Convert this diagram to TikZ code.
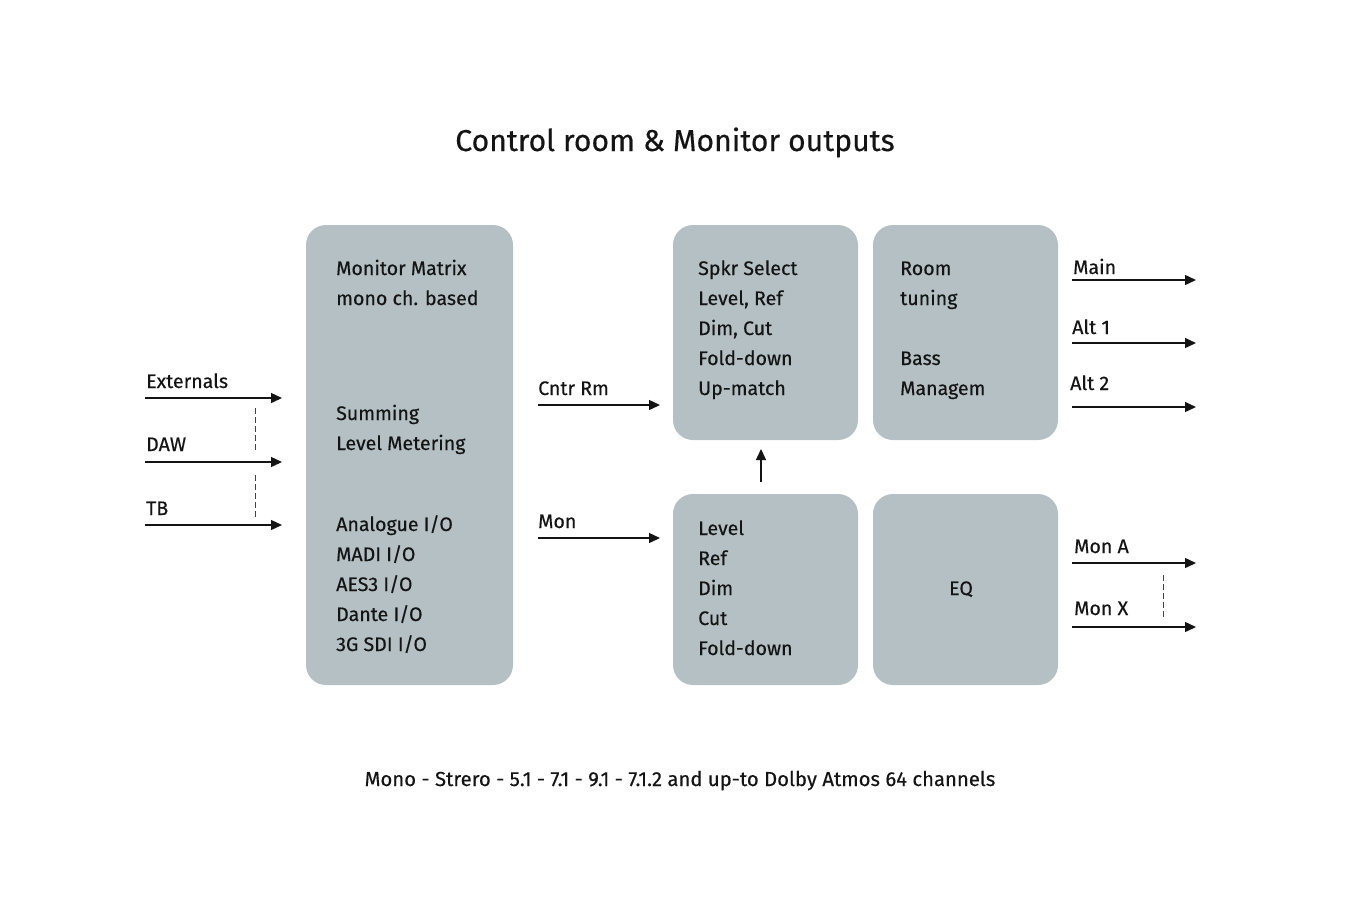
\documentclass[tikz,border=0pt]{standalone}
\usepackage{fontspec}
\setmainfont{Fira Sans}[FakeBold=0.35]
\usetikzlibrary{arrows.meta}

\definecolor{boxgrey}{HTML}{B4C0C4}
\definecolor{ink}{HTML}{141414}

\tikzset{
  block/.style={fill=boxgrey, rounded corners=20pt, inner sep=0pt},
  txt/.style={anchor=base west, inner sep=0pt, text=ink, font=\fontsize{19.6}{30}\selectfont},
  sig/.style={-{Triangle[length=11pt,width=10pt]}, line width=1.4pt, draw=ink},
  link/.style={line width=1pt, draw=ink!80, dash pattern=on 6pt off 3pt},
}

\begin{document}
\begin{tikzpicture}[x=1pt,y=-1pt]
    \useasboundingbox (0,0) rectangle (1350,914);

    \node[anchor=base, inner sep=0pt, text=ink, font=\fontsize{30.2}{36}\selectfont] (title) at (675,151) {Control room \& Monitor outputs};

    % blocks
    \node[block, minimum width=207pt, minimum height=460pt] (matrix) at (409.5,455) {};
    \node[block, minimum width=185pt, minimum height=215pt] (spkr) at (765.5,332.5) {};
    \node[block, minimum width=185pt, minimum height=215pt] (room) at (965.5,332.5) {};
    \node[block, minimum width=185pt, minimum height=191pt] (level) at (765.5,589.5) {};
    \node[block, minimum width=185pt, minimum height=191pt] (eq) at (965.5,589.5) {};

    % texts in the blocks
    \foreach \t [count=\i from 0] in {Monitor Matrix, mono ch. based}
      \node[txt] (mm\i) at (336,275+30*\i) {\t};
    \foreach \t [count=\i from 0] in {Summing, Level Metering}
      \node[txt] (sum\i) at (336,420+30*\i) {\t};
    \foreach \t [count=\i from 0] in {Analogue I/O, MADI I/O, AES3 I/O, Dante I/O, 3G SDI I/O}
      \node[txt] (io\i) at (336,531+30*\i) {\t};
    \foreach \t [count=\i from 0] in {Spkr Select, {Level, Ref}, {Dim, Cut}, Fold-down, Up-match}
      \node[txt] (sp\i) at (698,275+30*\i) {\t};
    \foreach \t [count=\i from 0] in {Room, tuning}
      \node[txt] (rt\i) at (900,275+30*\i) {\t};
    \foreach \t [count=\i from 0] in {Bass, Managem}
      \node[txt] (bm\i) at (900,365+30*\i) {\t};
    \foreach \t [count=\i from 0] in {Level, Ref, Dim, Cut, Fold-down}
      \node[txt] (lv\i) at (698,535+30*\i) {\t};
    \node[txt, anchor=base] (eqt) at (961,595) {EQ};

    % inputs
    \node[txt] (ext) at (146,388) {Externals};
    \node[txt] (daw) at (146,451) {DAW};
    \node[txt] (tb) at (146,515) {TB};
    \coordinate (ext-a) at (145,398);  \coordinate (ext-b) at (282,398);
    \coordinate (daw-a) at (145,462);  \coordinate (daw-b) at (282,462);
    \coordinate (tb-a) at (145,525);   \coordinate (tb-b) at (282,525);
    \draw[sig] (ext-a) -- (ext-b);
    \draw[sig] (daw-a) -- (daw-b);
    \draw[sig] (tb-a) -- (tb-b);
    \draw[link] (255,408) -- (255,450);
    \draw[link] (255,475) -- (255,517);

    % matrix to processing
    \node[txt] (cntr) at (538,395) {Cntr Rm};
    \node[txt] (mon) at (538,528) {Mon};
    \coordinate (cntr-a) at (538,405); \coordinate (cntr-b) at (660,405);
    \coordinate (mon-a) at (538,538);  \coordinate (mon-b) at (660,538);
    \draw[sig] (cntr-a) -- (cntr-b);
    \draw[sig] (mon-a) -- (mon-b);
    \coordinate (up-a) at (761,482);   \coordinate (up-b) at (761,449);
    \draw[sig] (up-a) -- (up-b);

    % outputs
    \node[txt] (main) at (1073,274) {Main};
    \node[txt] (alt1) at (1072,334) {Alt 1};
    \node[txt] (alt2) at (1070,390) {Alt 2};
    \node[txt] (mona) at (1074,553) {Mon A};
    \node[txt] (monx) at (1074,615) {Mon X};
    \foreach \n/\y in {main/280, alt1/343, alt2/407, mona/563, monx/627}{
      \coordinate (\n-a) at (1072,\y);
      \coordinate (\n-b) at (1196,\y);
      \draw[sig] (\n-a) -- (\n-b);
    }
    \draw[link] (1163,575) -- (1163,617);

    \node[anchor=base, inner sep=0pt, text=ink, font=\fontsize{20.3}{24}\selectfont] (formats) at (680,786)
      {Mono - Strero - 5.1 - 7.1 - 9.1 - 7.1.2 and up-to Dolby Atmos 64 channels};
\end{tikzpicture}
\end{document}
